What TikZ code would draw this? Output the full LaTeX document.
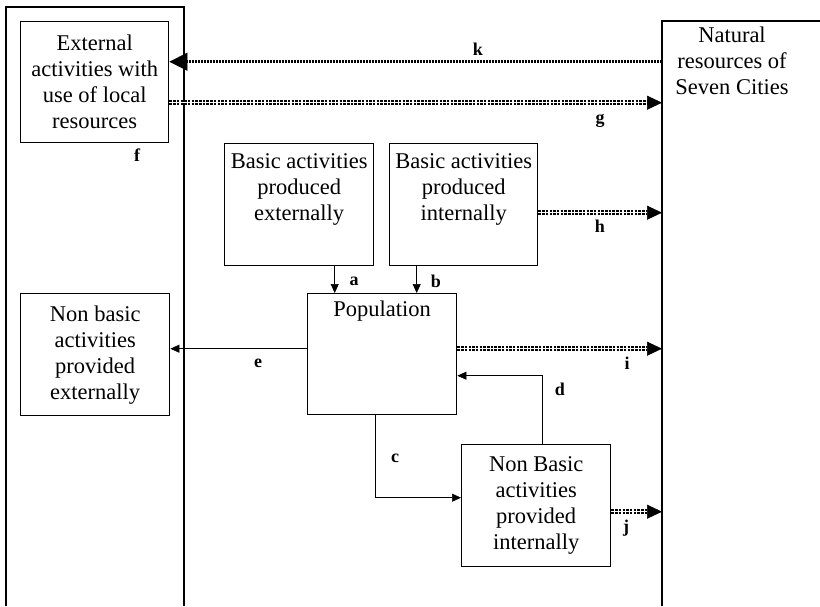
\documentclass[tikz,border=0pt]{standalone}
\usepackage{fontspec}
\setmainfont{Liberation Serif}
\usetikzlibrary{arrows.meta}
\begin{document}
\begin{tikzpicture}[x=1pt,y=-1pt,
  frame/.style={line width=1.4pt},
  box/.style={draw, line width=1.4pt, inner sep=0pt},
  txt/.style={align=center, font=\fontsize{22.5}{26}\selectfont, inner sep=0pt},
  lbl/.style={font=\fontsize{18}{20}\selectfont\bfseries, inner sep=0pt},
  sarrow/.style={line width=1.4pt, -{Triangle[length=9pt,width=8pt,line width=0.5pt]}},
  karrow/.style={line width=2.5pt, dash pattern=on 2pt off 1pt, -{Triangle[length=18pt,width=18pt,line width=0.5pt]}},
  ddarrow/.style={line width=5pt, dash pattern=on 2.5pt off 1.2pt, -{Triangle[length=15pt,width=14pt,line width=0.5pt]},
    postaction={draw=white, line width=1pt, solid, -, shorten >=15pt}}]
\useasboundingbox (0,0) rectangle (820,606);

% outer frames
\draw[frame] (6,606) -- (6,7) -- (184,7) -- (184,606);
\draw[frame] (662,606) -- (662,21) -- (820,21);
\coordinate (natL) at (662,21);
\node[txt] (nat) at (732,61) {Natural\\resources of\\Seven Cities};

% boxes
\node[box, txt, minimum width=148pt, minimum height=121pt, anchor=north west] (ext) at (20,21)
  {External\\activities with\\use of local\\resources};
\node[box, txt, minimum width=149pt, minimum height=122pt, anchor=north west] (nbe) at (20,293)
  {Non basic\\activities\\provided\\externally};
\node[box, minimum width=149pt, minimum height=122pt, anchor=north west] (bext) at (224,143) {};
\node[txt, anchor=north] (bextT) at ([yshift=-10pt]bext.north) {Basic activities\\produced\\externally};
\node[box, minimum width=148pt, minimum height=122pt, anchor=north west] (bint) at (389,143) {};
\node[txt, anchor=north] (bintT) at ([yshift=-10pt]bint.north) {Basic activities\\produced\\internally};
\node[box, minimum width=149pt, minimum height=121pt, anchor=north west] (pop) at (307,293) {};
\node[txt, anchor=north] (popT) at ([yshift=-8pt]pop.north) {Population};
\node[box, txt, minimum width=149pt, minimum height=122pt, anchor=north west] (nbi) at (461,444)
  {Non Basic\\activities\\provided\\internally};

% helper coordinates
\coordinate (kL) at ([yshift=20.5pt]ext.east);
\coordinate (kR) at (kL -| natL);
\coordinate (gL) at ([yshift=-20.5pt]ext.east);
\coordinate (gR) at (gL -| natL);
\coordinate (hL) at ([yshift=-8pt]bint.east);
\coordinate (hR) at (hL -| natL);
\coordinate (iL) at ([yshift=5.5pt]pop.east);
\coordinate (iR) at (iL -| natL);
\coordinate (jL) at ([yshift=-6pt]nbi.east);
\coordinate (jR) at (jL -| natL);
\coordinate (eR) at ([yshift=5.5pt]pop.west);
\coordinate (eL) at (eR -| nbe.east);
\coordinate (aT) at ([xshift=35.5pt]bext.south);
\coordinate (aB) at (aT |- pop.north);
\coordinate (bT) at ([xshift=-47pt]bint.south);
\coordinate (bB) at (bT |- pop.north);
\coordinate (cT) at ([xshift=-6.5pt]pop.south);
\coordinate (cE) at ([yshift=8pt]nbi.west);
\coordinate (dT) at ([xshift=6.5pt]nbi.north);
\coordinate (dE) at ([yshift=-21.5pt]pop.east);

% connectors
\draw[karrow] (kR) -- (kL);
\draw[ddarrow] (gL) -- (gR);
\draw[ddarrow] (hL) -- (hR);
\draw[ddarrow] (iL) -- (iR);
\draw[ddarrow] (jL) -- (jR);
\draw[sarrow] (eR) -- (eL);
\draw[sarrow] (aT) -- (aB);
\draw[sarrow] (bT) -- (bB);
\draw[sarrow] (cT) |- (cE);
\draw[sarrow] (dT) |- (dE);

% labels
\node[lbl] (lk) at (478,49) {k};
\node[lbl] (lg) at (600,121) {g};
\node[lbl] (lf) at (137,155) {f};
\node[lbl] (lh) at (600,226) {h};
\node[lbl] (la) at (354,281) {a};
\node[lbl] (lb) at (436,281) {b};
\node[lbl] (li) at (627,363) {i};
\node[lbl] (le) at (258,363) {e};
\node[lbl] (ld) at (560,389) {d};
\node[lbl] (lc) at (395,458) {c};
\node[lbl] (lj) at (626,528) {j};
\end{tikzpicture}
\end{document}
